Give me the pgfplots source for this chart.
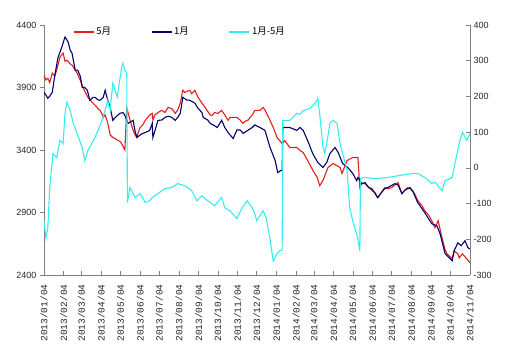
\documentclass[border=0pt]{standalone}
\usepackage{pgfplots}
\pgfplotsset{compat=1.18}
\usepackage{fontspec}
\setmainfont{Liberation Sans}
\newfontfamily\cjk{Noto Sans CJK SC}
\newfontfamily\monof{Liberation Mono}
\definecolor{cred}{RGB}{228,30,30}
\definecolor{cnavy}{RGB}{0,0,110}
\definecolor{ccyan}{RGB}{50,238,238}
\definecolor{axgray}{RGB}{128,128,128}
\begin{document}
\begin{tikzpicture}
\useasboundingbox (-44pt,-84pt) rectangle (464pt,275pt);
\pgfplotsset{
  common/.style={
    at={(0pt,0pt)}, anchor=south west, scale only axis,
    width=426pt, height=250pt, xmin=0, xmax=669,
    axis line style={axgray,-, line width=0.6pt},
    major tick style={axgray, line width=0.6pt},
    major tick length=4pt,
    /pgf/number format/assume math mode=true,
    /pgf/number format/1000 sep={},
    yticklabel style={font=\fontsize{9}{10}\selectfont, text=black!85},
  }
}
\begin{axis}[common,
  ymin=2400, ymax=4400,
  axis x line*=bottom, axis y line*=left,
  ytick={2400,2900,3400,3900,4400},
  ytick align=outside, xtick align=inside,
  xtick={0,31,59,90,120,151,181,212,243,273,304,334,365,396,424,455,485,516,546,577,608,638,669},
  xticklabels={2013/01/04,2013/02/04,2013/03/04,2013/04/04,2013/05/04,2013/06/04,2013/07/04,2013/08/04,2013/09/04,2013/10/04,2013/11/04,2013/12/04,2014/01/04,2014/02/04,2014/03/04,2014/04/04,2014/05/04,2014/06/04,2014/07/04,2014/08/04,2014/09/04,2014/10/04,2014/11/04},
  xticklabel style={rotate=90, anchor=east, font=\monof\fontsize{9.5}{10}\selectfont, text=black!85},
  xticklabel shift=6pt,
  legend columns=3,
  legend style={at={(0.068,0.972)}, anchor=west, draw=none, fill=none, inner sep=0pt,
    font=\cjk\fontsize{9.5}{10}\selectfont,
    /tikz/every even column/.append style={column sep=38pt}},
  legend image code/.code={\draw[#1] (0pt,0pt) -- (20pt,0pt);},
]
\addplot[cred, line width=1.1pt] coordinates {
(0,3999)(3,3960)(6,3974)(9,3940)(13,4015)(17,3990)(20,4040)(25,4143)(30,4175)(33,4110)(36,4119)(41,4090)(44,4079)(49,4040)(52,4015)(57,3958)(61,3902)(64,3870)(69,3822)(72,3800)(77,3774)(80,3760)(85,3730)(88,3717)(91,3690)(93,3661)(96,3680)(100,3620)(104,3520)(108,3500)(112,3490)(115,3480)(119,3470)(122,3450)(125,3420)(127,3400)
(130,3733)(132,3700)(135,3640)(140,3557)(143,3520)(146,3500)(148,3540)(151,3580)(155,3600)(159,3637)(166,3680)(170,3693)(171,3640)(174,3680)(179,3700)(185,3717)(190,3700)(195,3741)(201,3730)(206,3693)(210,3720)(214,3774)(218,3878)(221,3860)(225,3870)(229,3878)(232,3850)(237,3878)(242,3820)(245,3798)(250,3760)(253,3741)(257,3710)(261,3680)(264,3677)(268,3700)(273,3693)(279,3717)(284,3680)(289,3637)(292,3660)(297,3661)(303,3661)(308,3640)(312,3613)(316,3630)(320,3637)(327,3680)(331,3717)(339,3717)(344,3741)(347,3720)(355,3637)(360,3580)(366,3500)(374,3452)(378,3476)(386,3420)(397,3420)(402,3396)(407,3380)(414,3316)(422,3240)(429,3180)(433,3115)(438,3155)(446,3260)(454,3292)(465,3260)(468,3212)(476,3316)(485,3340)(493,3340)
(496,3099)(499,3131)(504,3131)(510,3100)(515,3075)(520,3060)(524,3019)(530,3060)(535,3099)(540,3090)(546,3099)(551,3120)(556,3139)(562,3051)(567,3080)(571,3099)(575,3090)(579,3075)(583,3040)(587,2995)(593,2960)(598,2914)(604,2880)(609,2834)(614,2778)(619,2834)(625,2698)(630,2600)(633,2569)(641,2529)(644,2593)(650,2570)(652,2537)(657,2569)(664,2529)(669,2497)
};
\addlegendentry{5月}
\addplot[cnavy, line width=1.1pt] coordinates {
(0,3862)(3,3840)(6,3814)(9,3830)(13,3862)(17,3999)(22,4140)(28,4223)(33,4304)(36,4280)(38,4263)(41,4200)(44,4175)(49,4039)(53,4039)(57,3990)(60,3902)(64,3900)(68,3878)(72,3798)(77,3820)(80,3822)(85,3800)(88,3798)(93,3820)(96,3878)(100,3800)(104,3741)(108,3637)(112,3660)(119,3693)(124,3700)(127,3677)(132,3613)(140,3637)(143,3550)(146,3500)(151,3520)(155,3533)(159,3540)(166,3557)(170,3613)(171,3500)(174,3550)(179,3637)(185,3640)(190,3661)(195,3670)(201,3661)(206,3637)(210,3661)(214,3693)(218,3822)(224,3800)(229,3798)(235,3780)(237,3774)(242,3733)(248,3700)(250,3661)(257,3640)(261,3613)(266,3600)(272,3580)(279,3637)(284,3580)(289,3540)(297,3492)(303,3560)(308,3560)(313,3533)(320,3557)(327,3580)(331,3600)(339,3580)(347,3557)(355,3420)(363,3316)(367,3220)(372,3236)(374,3236)
(375,3580)(386,3580)(397,3557)(402,3580)(407,3557)(414,3476)(422,3372)(430,3300)(438,3260)(444,3300)(449,3372)(457,3420)(462,3380)(469,3292)(477,3260)(485,3212)(491,3155)(493,3180)(499,3131)(504,3140)(510,3100)(515,3090)(524,3019)(530,3060)(535,3091)(540,3100)(551,3131)(556,3120)(562,3051)(567,3080)(575,3099)(580,3060)(587,2979)(598,2898)(609,2810)(617,2794)(622,2730)(630,2569)(641,2513)(644,2593)(650,2658)(655,2634)(661,2674)(666,2617)(669,2609)
};
\addlegendentry{1月}
\addlegendimage{ccyan, line width=1.1pt}
\addlegendentry{1月-5月}
\end{axis}
\begin{axis}[common,
  ymin=-300, ymax=400,
  axis x line=none, axis y line*=right,
  ytick={-300,-200,-100,0,100,200,300,400},
  ytick align=inside,
]
\addplot[ccyan, line width=1.1pt] coordinates {
(0,-148)(3,-196)(6,-168)(9,-55)(13,20)(14,40)(20,29)(25,77)(30,68)(33,153)(36,184)(41,161)(46,125)(52,96)(60,57)(64,20)(69,49)(75,68)(80,85)(85,105)(91,133)(96,161)(100,189)(104,161)(108,237)(115,198)(122,282)(124,293)(127,274)(130,265)
(131,-97)(135,-55)(143,-83)(151,-72)(159,-97)(166,-92)(170,-83)(179,-72)(190,-58)(201,-55)(210,-44)(221,-50)(232,-64)(240,-92)(248,-78)(257,-92)(268,-106)(279,-83)(284,-112)(292,-120)(303,-142)(311,-112)(319,-92)(327,-112)(331,-128)(334,-148)(344,-120)(349,-140)(355,-200)(360,-261)(366,-240)(370,-232)(374,-230)
(375,133)(386,133)(397,153)(402,150)(407,160)(418,167)(425,180)(429,189)(430,195)(433,150)(438,60)(441,40)(446,90)(449,125)(454,133)(460,125)(465,68)(476,-8)(480,-111)(485,-150)(491,-185)(493,-200)(496,-232)
(497,-30)(504,-27)(520,-30)(540,-27)(556,-22)(578,-16)(587,-16)(598,-27)(609,-44)(614,-40)(625,-64)(630,-36)(641,-27)(644,1)(652,68)(657,100)(664,77)(669,96)
};
\end{axis}
\end{tikzpicture}
\end{document}
